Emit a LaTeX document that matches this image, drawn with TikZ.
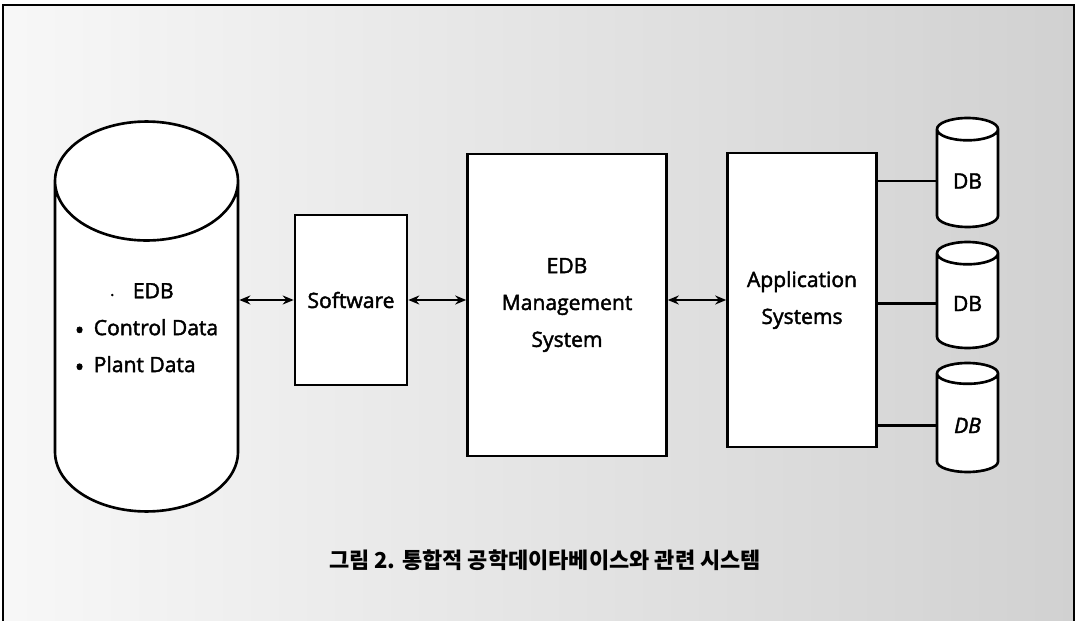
\documentclass[tikz,border=0pt]{standalone}
\usepackage{fontspec}
\setmainfont{Open Sans}[UprightFeatures={FakeBold=2}, ItalicFeatures={FakeBold=2}]
\newfontfamily\korfont{Noto Sans CJK KR}
\usepackage{tikz}
\usetikzlibrary{shapes.geometric, arrows.meta}

\newcommand{\itemdot}{\raisebox{-0.35ex}{\Large\textbullet}}

\begin{document}
\begin{tikzpicture}[
    x=0.02cm, y=-0.02cm,
    font=\fontsize{12}{21}\selectfont,
    every node/.style={inner sep=1.5pt},
    frame/.style  ={line width=1.2pt, draw=black},
    block/.style  ={draw=black, line width=1.5pt, fill=white, align=center},
    store/.style  ={cylinder, shape border rotate=90, draw=black,
                    line width=1.5pt, fill=white, align=center,
                    anchor=shape center},
    link/.style   ={{Stealth[length=2.2mm,width=1.8mm]}-{Stealth[length=2.2mm,width=1.8mm]},
                    line width=1.3pt},
    tie/.style    ={line width=1.3pt},
    caption/.style={font=\korfont\bfseries\fontsize{12.5}{14}\selectfont},
  ]

  %% --- page and speckled background -------------------------------------
  \useasboundingbox (0,0) rectangle (1081,621);
  \shade[left color=black!3, right color=black!18] (3,5) rectangle (1074,621);
  \draw[frame] (3,621) -- (3,5) -- (1074,5) -- (1074,621);

  %% --- engineering database ---------------------------------------------
  \node[store, aspect=0.8, minimum width=3.66cm, minimum height=7.8cm,
        align=left] (edb) at (146.5,316.5)
        {\hspace*{1.7em}{\tiny\textbullet}\hspace{0.9em}EDB\\
         \itemdot\hspace{0.45em}Control Data\\
         \itemdot\hspace{0.45em}Plant Data\\[9pt] \mbox{}};

  %% --- middle blocks ----------------------------------------------------
  \node[block, minimum width=2.24cm, minimum height=3.4cm]  (sw)    at (351,300) {Software};
  \node[block, minimum width=3.98cm, minimum height=6.04cm] (edbms) at (567,305)
        {EDB\\Management\\System};
  \node[block, minimum width=2.98cm, minimum height=5.88cm] (app)   at (802,300)
        {Application\\Systems};

  %% --- attached databases -----------------------------------------------
  \node[store, aspect=0.65, minimum width=1.22cm, minimum height=2.18cm] (db1) at (967.5,172.5) {DB};
  \node[store, aspect=0.65, minimum width=1.22cm, minimum height=2.12cm] (db2) at (967.5,295)   {DB};
  \node[store, aspect=0.65, minimum width=1.22cm, minimum height=2.18cm] (db3) at (967.5,417.5) {\textit{DB}};

  %% --- connectors -------------------------------------------------------
  \draw[link] (sw.west) -- (sw.west -| edb.east);
  \draw[link] (sw.east) -- (sw.east -| edbms.west);
  \draw[link] (app.west) -- (app.west -| edbms.east);
  \foreach \d in {db1, db2, db3}
    \draw[tie] (\d.west) -- (\d.west -| app.east);

  %% --- caption ----------------------------------------------------------
  \node[caption] (cap) at (545,560) {그림 2. 통합적 공학데이타베이스와 관련 시스템};

\end{tikzpicture}
\end{document}
